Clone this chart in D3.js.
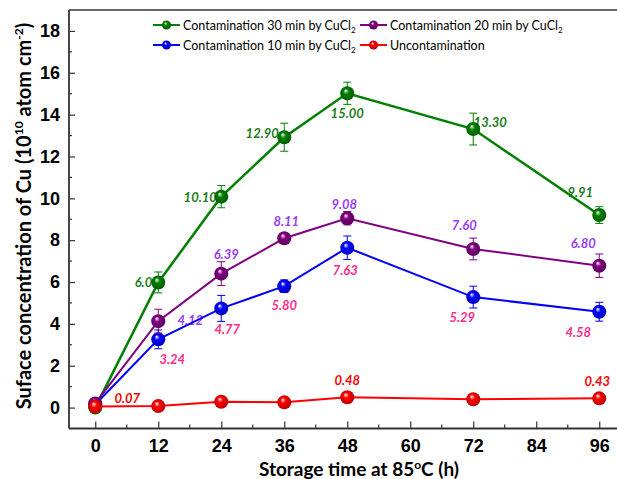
<!DOCTYPE html>
<html>
<head>
<meta charset="utf-8">
<script src="https://cdn.jsdelivr.net/npm/d3@7"></script>
<style>
  body { margin: 0; background: #fff; }
  svg { display: block; font-family: Lato, "Open Sans", sans-serif; }
</style>
</head>
<body>
<svg id="chart" width="617" height="479"></svg>
<script>
// storage time (h)
const hours = [0, 12, 24, 36, 48, 72, 96];

// surface Cu concentration, 10^10 atom/cm2
const cont30 = [0.0, 5.98, 10.08, 12.92, 15.02, 13.31, 9.2];
const cont30Err = [0.1, 0.5, 0.53, 0.67, 0.53, 0.76, 0.4];
const cont30Labels = ['', '6.09', '10.10', '12.90', '15.00', '13.30', '9.91'];

const cont20 = [0.2, 4.13, 6.4, 8.09, 9.05, 7.58, 6.78];
const cont20Err = [0.1, 0.57, 0.57, 0.2, 0.32, 0.52, 0.56];
const cont20Labels = ['', '4.12', '6.39', '8.11', '9.08', '7.60', '6.80'];

const cont10 = [0.15, 3.26, 4.74, 5.8, 7.64, 5.28, 4.58];
const cont10Err = [0.1, 0.45, 0.62, 0.3, 0.56, 0.52, 0.45];
const cont10Labels = ['', '3.24', '4.77', '5.80', '7.63', '5.29', '4.58'];

const uncont = [0.05, 0.07, 0.28, 0.25, 0.49, 0.4, 0.44];
const uncontErr = [0.1, 0.1, 0.1, 0.1, 0.1, 0.1, 0.1];
const uncontLabels = ['', '0.07', '', '', '0.48', '', '0.43'];

const xTicks = [0, 12, 24, 36, 48, 60, 72, 84, 96];
const yTicks = [0, 2, 4, 6, 8, 10, 12, 14, 16, 18];

// label placement (pixels from the marker centre)
const off30 = [[0,0],[-11,5],[-21,5],[-22,1],[0,25],[17,-2],[-19,-18]];
const off20 = [[0,0],[32,4],[5,-15],[2,-12],[-3,-9],[-9,-19],[-16,-18]];
const off10 = [[0,0],[14,25],[6,26],[0,24],[-2,27],[-11,25],[-21,25]];
const offUn = [[0,0],[-31,-3],[0,0],[0,0],[0,-12],[0,0],[-2,-12]];

const series = [
  { name: 'Contamination 30 min by CuCl', values: cont30, err: cont30Err, labels: cont30Labels, off: off30, color: '#008000', labelColor: '#1d7d1d', width: 2.5 },
  { name: 'Contamination 10 min by CuCl', values: cont10, err: cont10Err, labels: cont10Labels, off: off10, color: '#0000ff', labelColor: '#ff2a8a', width: 2 },
  { name: 'Contamination 20 min by CuCl', values: cont20, err: cont20Err, labels: cont20Labels, off: off20, color: '#800080', labelColor: '#9a3cf5', width: 2 },
  { name: 'Uncontamination', values: uncont, err: uncontErr, labels: uncontLabels, off: offUn, color: '#ff0000', labelColor: '#ff0000', width: 2 }
];

const svg = d3.select('#chart');
const plotLeft = 69, plotBottom = 428.5, plotTop = 10;

const x = d3.scaleLinear().domain([-5, 104]).range([plotLeft, plotLeft + 109 * 5.25]);
const y = d3.scaleLinear().domain([-1, 19]).range([plotBottom, plotTop]);

// sphere-like gradients
const defs = svg.append('defs');
series.forEach((s, i) => {
  const g = defs.append('radialGradient')
    .attr('id', 'ball' + i)
    .attr('cx', '50%').attr('cy', '50%').attr('r', '55%')
    .attr('fx', '38%').attr('fy', '30%');
  g.append('stop').attr('offset', '0%').attr('stop-color', '#ffffff');
  g.append('stop').attr('offset', '35%').attr('stop-color', s.color);
  g.append('stop').attr('offset', '100%').attr('stop-color', d3.color(s.color).darker(1));
});

// frame
svg.append('line')
  .attr('x1', plotLeft).attr('x2', 617).attr('y1', plotTop).attr('y2', plotTop)
  .attr('stroke', '#333').attr('stroke-width', 1.5);

// x axis
const xAxis = svg.append('g')
  .attr('transform', `translate(0,${plotBottom})`)
  .call(d3.axisBottom(x).tickValues(xTicks).tickSize(-7).tickPadding(11).tickFormat(d3.format('d')));
xAxis.select('.domain').attr('d', `M${plotLeft},0H617`).attr('stroke', '#333').attr('stroke-width', 1.8);
xAxis.selectAll('.tick line').attr('stroke', '#333').attr('stroke-width', 1.2);
xAxis.selectAll('.tick text').attr('font-size', 18).attr('font-weight', 'bold').attr('fill', '#000');

svg.append('g')
  .attr('transform', `translate(0,${plotBottom})`)
  .selectAll('line')
  .data(d3.range(6, 100, 12))
  .join('line')
  .attr('x1', d => x(d)).attr('x2', d => x(d))
  .attr('y1', 0).attr('y2', -4)
  .attr('stroke', '#333').attr('stroke-width', 1.2);

// y axis
const yAxis = svg.append('g')
  .attr('transform', `translate(${plotLeft},0)`)
  .call(d3.axisLeft(y).tickValues(yTicks).tickSize(-6).tickPadding(9));
yAxis.select('.domain').attr('d', `M0,${plotBottom}V${plotTop}`).attr('stroke', '#333').attr('stroke-width', 1.8);
yAxis.selectAll('.tick line').attr('stroke', '#333').attr('stroke-width', 1.2);
yAxis.selectAll('.tick text').attr('font-size', 18).attr('font-weight', 'bold').attr('fill', '#000');

svg.append('g')
  .attr('transform', `translate(${plotLeft},0)`)
  .selectAll('line')
  .data(d3.range(1, 19, 2))
  .join('line')
  .attr('x1', 0).attr('x2', 3)
  .attr('y1', d => y(d)).attr('y2', d => y(d))
  .attr('stroke', '#333').attr('stroke-width', 1.2);

// axis titles
const xt = svg.append('text')
  .attr('x', 359).attr('y', 476)
  .attr('text-anchor', 'middle')
  .attr('font-size', 19).attr('font-weight', 'bold');
xt.append('tspan').text('Storage time at 85');
xt.append('tspan').attr('font-size', 12).attr('dy', -7).text('o');
xt.append('tspan').attr('dy', 7).text('C (h)');

const yt = svg.append('text')
  .attr('transform', 'translate(31,216) rotate(-90)')
  .attr('text-anchor', 'middle')
  .attr('font-size', 20).attr('font-weight', 'bold');
yt.append('tspan').text('Suface concentration of Cu (10');
yt.append('tspan').attr('font-size', 12).attr('dy', -8).text('10');
yt.append('tspan').attr('dy', 8).text(' atom cm');
yt.append('tspan').attr('font-size', 12).attr('dy', -8).text('-2');
yt.append('tspan').attr('dy', 8).text(')');

// data labels (under the lines)
series.forEach(s => {
  svg.append('g').selectAll('text')
    .data(hours.map((h, i) => ({ h, v: s.values[i], t: s.labels[i], o: s.off[i] })).filter(d => d.t))
    .join('text')
    .attr('x', d => x(d.h) + d.o[0])
    .attr('y', d => y(d.v) + d.o[1])
    .attr('text-anchor', 'middle')
    .attr('font-size', 13).attr('font-weight', 'bold').attr('font-style', 'italic')
    .attr('fill', s.labelColor)
    .text(d => d.t);
});

const line = d3.line().x(d => x(d.h)).y(d => y(d.v));

series.forEach((s, i) => {
  const pts = hours.map((h, k) => ({ h, v: s.values[k], e: s.err[k] }));
  const g = svg.append('g');
  g.append('path')
    .datum(pts)
    .attr('fill', 'none')
    .attr('stroke', s.color)
    .attr('stroke-width', s.width)
    .attr('d', line);

  // error bars
  const eb = g.selectAll('.eb').data(pts).join('g');
  eb.append('line')
    .attr('x1', d => x(d.h)).attr('x2', d => x(d.h))
    .attr('y1', d => y(d.v - d.e)).attr('y2', d => y(d.v + d.e))
    .attr('stroke', s.color).attr('stroke-width', 1);
  [-1, 1].forEach(sg => {
    eb.append('line')
      .attr('x1', d => x(d.h) - 4).attr('x2', d => x(d.h) + 4)
      .attr('y1', d => y(d.v + sg * d.e)).attr('y2', d => y(d.v + sg * d.e))
      .attr('stroke', s.color).attr('stroke-width', 1);
  });

  g.selectAll('circle').data(pts).join('circle')
    .attr('cx', d => x(d.h)).attr('cy', d => y(d.v))
    .attr('r', 7)
    .attr('fill', `url(#ball${i})`);
});

// legend
const legendPos = [[153, 25], [153, 45], [360, 25], [360, 45]];
series.forEach((s, i) => {
  const [lx, ly] = legendPos[i];
  const g = svg.append('g').attr('transform', `translate(${lx},${ly})`);
  g.append('line').attr('x1', 0).attr('x2', 27).attr('stroke', s.color).attr('stroke-width', 2);
  g.append('circle').attr('cx', 13.5).attr('r', 4.5).attr('fill', `url(#ball${i})`);
  const t = g.append('text').attr('x', 30).attr('y', 4.5).attr('font-size', 12.5).attr('fill', '#000');
  t.append('tspan').text(s.name);
  if (s.name.endsWith('CuCl')) {
    t.append('tspan').attr('font-size', 8).attr('dy', 3).text('2');
  }
});
</script>
</body>
</html>
